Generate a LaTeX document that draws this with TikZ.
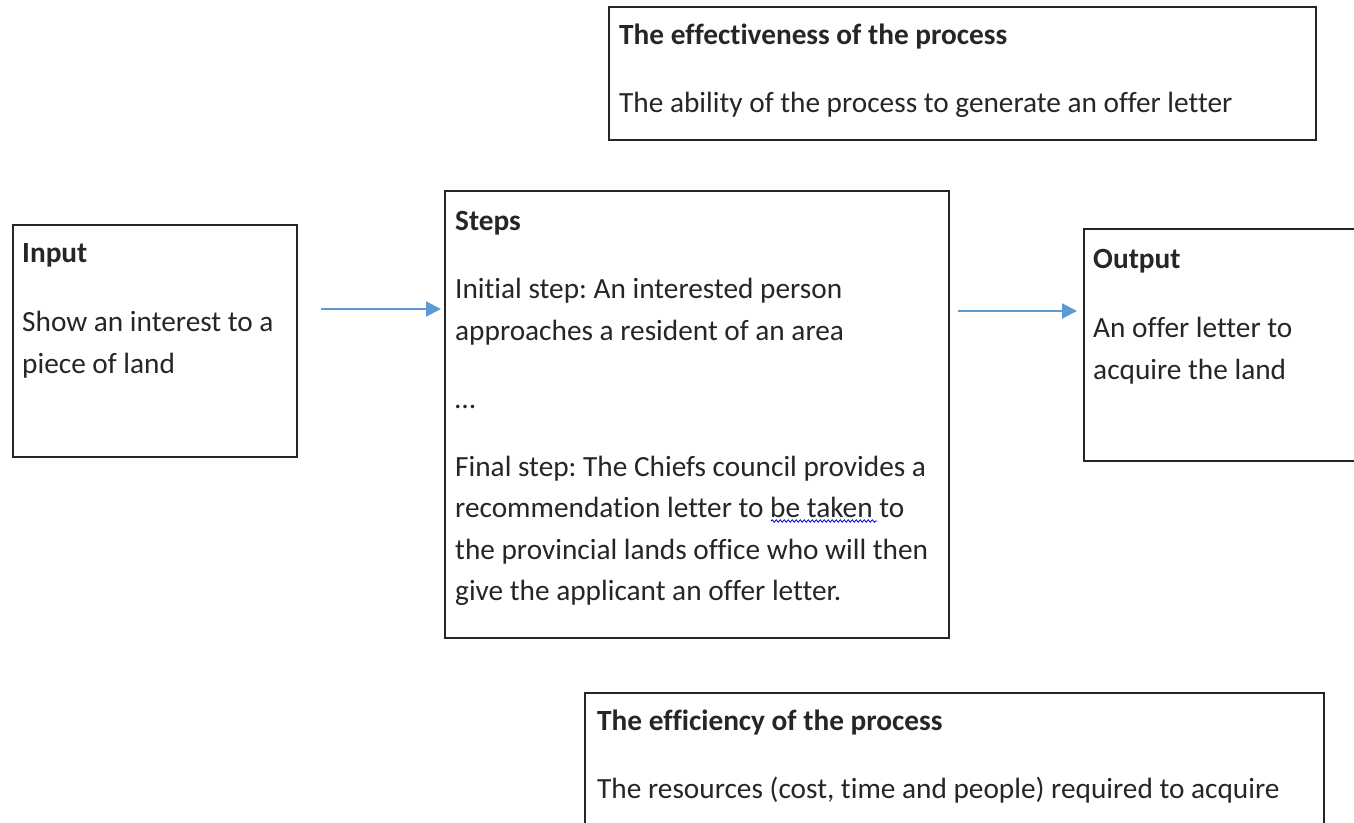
\documentclass[tikz,border=0pt]{standalone}
\usepackage{fontspec}
\setmainfont{Carlito}[Ligatures={NoCommon}]
\usetikzlibrary{arrows.meta,decorations.pathmorphing}
\definecolor{arrblue}{HTML}{5B9BD5}
\definecolor{boxline}{HTML}{262626}
\tikzset{
  box/.style={draw=boxline, line width=1.6pt, rectangle, inner sep=0pt},
  txt/.style={anchor=base west, inner sep=0pt, font=\fontsize{29.3}{35}\selectfont, text=black!85},
  ttl/.style={txt, font=\fontsize{29.3}{35}\selectfont\bfseries},
  ctxt/.style={txt},
  arr/.style={draw=arrblue, line width=2pt, -{Triangle[length=15pt,width=15pt]}},
}
\frenchspacing
\begin{document}
\begin{tikzpicture}[x=1pt,y=-1pt]
\clip (0,0) rectangle (1354,822);
\fill[white] (0,0) rectangle (1354,822);
% boxes
\node[box, minimum width=707pt, minimum height=133pt] (top) at (962.5,73.5) {};
\node[box, minimum width=284pt, minimum height=232pt] (in) at (155,341) {};
\node[box, minimum width=504pt, minimum height=447pt] (steps) at (697,414.5) {};
\node[box, minimum width=280pt, minimum height=232pt] (out) at (1224,345) {};
\node[box, minimum width=739pt, minimum height=160pt] (bot) at (954.5,773) {};
% top text
\node[ttl] (t1) at (619,44) {The effectiveness of the process};
\node[ctxt] (t2) at (619,112) {The ability of the process to generate an offer letter};
% input text
\node[ttl] (i1) at (22,262) {Input};
\node[txt] (i2) at (22,331) {Show an interest to a};
\node[txt] (i3) at (22,373) {piece of land};
% steps text
\node[ttl] (s1) at (455,230) {Steps};
\node[txt] (s2) at (455,298) {Initial step: An interested person};
\node[txt] (s3) at (455,340) {approaches a resident of an area};
\node[txt] (s4) at (455,408) {\ldots};
\node[txt] (s5) at (455,476) {Final step: The Chiefs council provides a};
\node[txt] (s6) at (455,517) {recommendation letter to be taken to};
\node[txt] (s7) at (455,559) {the provincial lands office who will then};
\node[txt] (s8) at (455,600) {give the applicant an offer letter.};
% output text
\node[ttl] (o1) at (1093,268) {Output};
\node[txt] (o2) at (1093,337) {An offer letter to};
\node[txt] (o3) at (1093,379) {acquire the land};
% bottom text
\node[ttl] (b1) at (597,730) {The efficiency of the process};
\node[ctxt] (b2) at (597,798) {The resources (cost, time and people) required to acquire};
% spell-check squiggle
\coordinate (w1) at (771,521);
\coordinate (w2) at (877,521);
\draw[blue!80!black, line width=0.8pt, decorate, decoration={snake, amplitude=1.2pt, segment length=4pt}] (w1) -- (w2);
% arrows
\coordinate (a1s) at (321,309);
\coordinate (a1e) at (441,309);
\coordinate (a2s) at (958,311);
\coordinate (a2e) at (1077,311);
\draw[arr] (a1s) -- (a1e);
\draw[arr] (a2s) -- (a2e);
\end{tikzpicture}
\end{document}
